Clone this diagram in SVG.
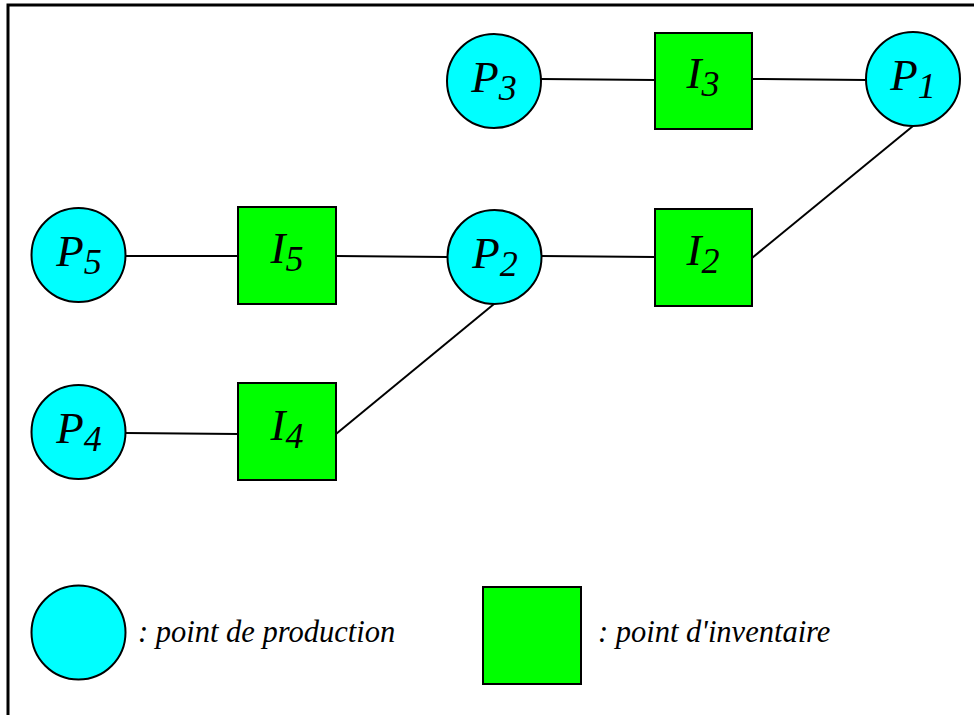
<svg xmlns="http://www.w3.org/2000/svg" width="974" height="715" viewBox="0 0 974 715">
  <style>
    .prod { fill: #00ffff; stroke: #000; stroke-width: 2; }
    .inv { fill: #00ff00; stroke: #000; stroke-width: 2; }
    .link { stroke: #000; stroke-width: 2; fill: none; }
  </style>
  <rect x="0" y="0" width="974" height="715" fill="#fff"/>
  <!-- frame: open on the right and bottom -->
  <rect x="8" y="5" width="980" height="730" fill="none" stroke="#000" stroke-width="3"/>

  <g id="connectors">
    <line class="link" x1="541" y1="79" x2="655" y2="80"/>
    <line class="link" x1="752" y1="79" x2="866" y2="80"/>
    <line class="link" x1="126" y1="256" x2="238" y2="256"/>
    <line class="link" x1="336" y1="256" x2="447" y2="257"/>
    <line class="link" x1="541" y1="256" x2="655" y2="257"/>
    <line class="link" x1="752" y1="258" x2="913" y2="126"/>
    <line class="link" x1="126" y1="433" x2="238" y2="434"/>
    <line class="link" x1="336" y1="434" x2="494" y2="304"/>
  </g>

  <g id="P3">
    <circle class="prod" cx="494" cy="81" r="47"/>
    <text x="494" y="92" font-family="Liberation Serif" font-style="italic" font-size="45" text-anchor="middle">P<tspan font-size="36" dy="8">3</tspan></text>
  </g>
  <g id="I3">
    <rect class="inv" x="655" y="33" width="97" height="96"/>
    <text x="703" y="88" font-family="Liberation Serif" font-style="italic" font-size="45" text-anchor="middle">I<tspan font-size="36" dy="8">3</tspan></text>
  </g>
  <g id="P1">
    <circle class="prod" cx="913" cy="79" r="47"/>
    <text x="913" y="90" font-family="Liberation Serif" font-style="italic" font-size="45" text-anchor="middle">P<tspan font-size="36" dy="8">1</tspan></text>
  </g>
  <g id="P5">
    <circle class="prod" cx="78.5" cy="255" r="47"/>
    <text x="79" y="266" font-family="Liberation Serif" font-style="italic" font-size="45" text-anchor="middle">P<tspan font-size="36" dy="8">5</tspan></text>
  </g>
  <g id="I5">
    <rect class="inv" x="238" y="207" width="98" height="97"/>
    <text x="287" y="263" font-family="Liberation Serif" font-style="italic" font-size="45" text-anchor="middle">I<tspan font-size="36" dy="8">5</tspan></text>
  </g>
  <g id="P2">
    <circle class="prod" cx="494.5" cy="257" r="47"/>
    <text x="495" y="268" font-family="Liberation Serif" font-style="italic" font-size="45" text-anchor="middle">P<tspan font-size="36" dy="8">2</tspan></text>
  </g>
  <g id="I2">
    <rect class="inv" x="655" y="209" width="97" height="97"/>
    <text x="703" y="265" font-family="Liberation Serif" font-style="italic" font-size="45" text-anchor="middle">I<tspan font-size="36" dy="8">2</tspan></text>
  </g>
  <g id="P4">
    <circle class="prod" cx="78.5" cy="432" r="47"/>
    <text x="79" y="443" font-family="Liberation Serif" font-style="italic" font-size="45" text-anchor="middle">P<tspan font-size="36" dy="8">4</tspan></text>
  </g>
  <g id="I4">
    <rect class="inv" x="238" y="383" width="98" height="97"/>
    <text x="287" y="440" font-family="Liberation Serif" font-style="italic" font-size="45" text-anchor="middle">I<tspan font-size="36" dy="8">4</tspan></text>
  </g>

  <g id="legend">
    <circle class="prod" cx="78.5" cy="632.5" r="47"/>
    <text x="138" y="642" font-family="Liberation Serif" font-style="italic" font-size="30.5">: point de production</text>
    <rect class="inv" x="483" y="587" width="98" height="97" stroke-width="3"/>
    <text x="598" y="642" font-family="Liberation Serif" font-style="italic" font-size="30.5">: point d'inventaire</text>
  </g>
</svg>
